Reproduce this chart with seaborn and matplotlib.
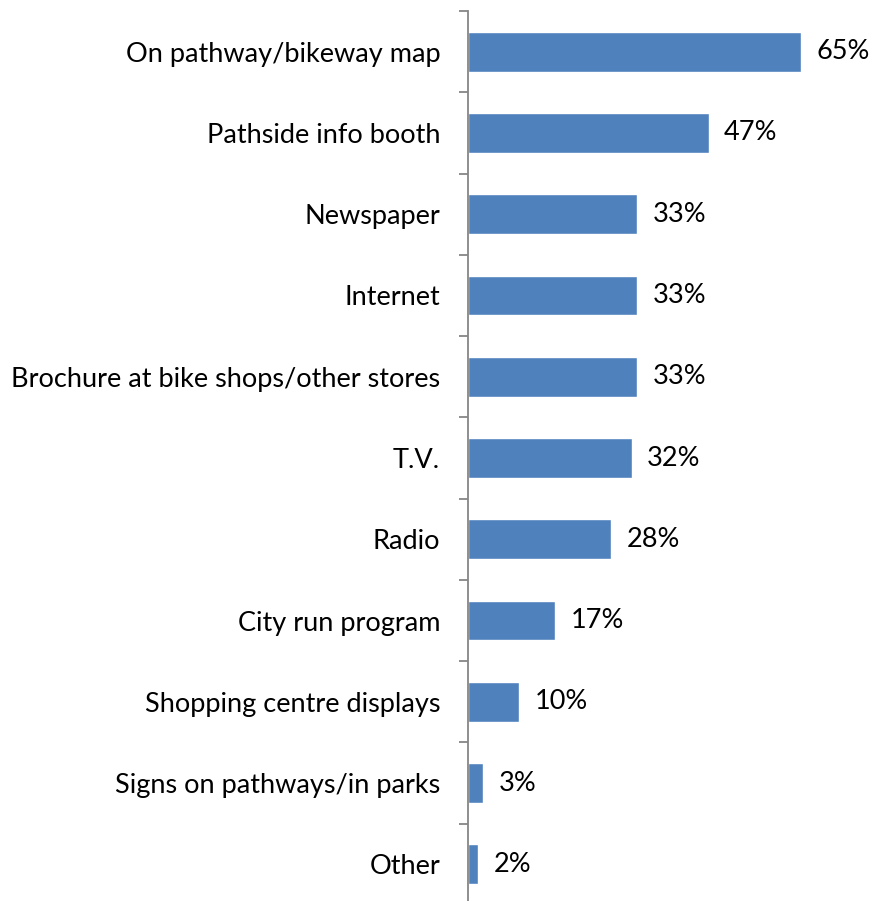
import matplotlib
matplotlib.use("Agg")
import matplotlib.pyplot as plt
import seaborn as sns
import pandas as pd

categories = [
    "On pathway/bikeway map",
    "Pathside info booth",
    "Newspaper",
    "Internet",
    "Brochure at bike shops/other stores",
    "T.V.",
    "Radio",
    "City run program",
    "Shopping centre displays",
    "Signs on pathways/in parks",
    "Other",
]
values = [65, 47, 33, 33, 33, 32, 28, 17, 10, 3, 2]

df = pd.DataFrame({"source": categories, "pct": values})

sns.set_theme(style="white")
plt.rcParams["font.family"] = ["Lato", "DejaVu Sans"]

fig = plt.figure(figsize=(8.71, 9.01), dpi=100)
ax = fig.add_axes([468 / 871, (901 - 905) / 901, 358.6 / 871, 894 / 901])

sns.barplot(data=df, x="pct", y="source", orient="h", color="#4F81BD",
            saturation=1, width=0.49, ax=ax)

ax.set_xlim(0, 70)
ax.set_ylim(len(categories) - 0.5, -0.5)
ax.set_xlabel("")
ax.set_ylabel("")
ax.set_xticks([])

# category ticks sit on the boundaries between bars
ax.set_yticks([i - 0.5 for i in range(len(categories) + 1)], minor=False)
ax.set_yticklabels([])
ax.set_yticks(range(len(categories)), minor=True)
ax.set_yticklabels(categories, minor=True, fontsize=19.5, color="black")
ax.tick_params(axis="y", which="major", length=6.5, width=1.3, color="#868686", left=True)
ax.tick_params(axis="y", which="minor", length=0, pad=20)

for side in ["top", "right", "bottom"]:
    ax.spines[side].set_visible(False)
ax.spines["left"].set_color("#868686")
ax.spines["left"].set_linewidth(1.3)

for i, v in enumerate(values):
    ax.annotate(f"{v}%", (v, i), xytext=(11, 0), textcoords="offset points",
                ha="left", va="center", fontsize=19.5, color="black")

fig.savefig("out.png", dpi=100, facecolor="white")
